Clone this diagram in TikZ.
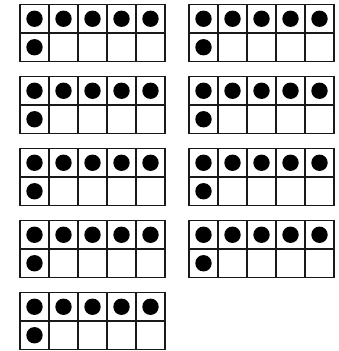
\documentclass[tikz,border=0pt]{standalone}
\usepackage{tikz}

\begin{document}
\begin{tikzpicture}[x=1pt,y=-1pt,
    frame/.style={line width=1.6pt,black!90},
    counter/.style={fill=black}]
  \useasboundingbox (0,0) rectangle (339,351);
  % nine ten-frames, each showing six
  \foreach \fx/\fy in {20/4.5,189/4.5,20/76.5,189/76.5,20/148.5,189/148.5,20/220.5,189/220.5,20/292.5}{
    \begin{scope}[xshift=\fx pt,yshift=-\fy pt]
      \draw[frame] (0,0) rectangle (145,57);
      \draw[frame] (0,28.5) -- (145,28.5);
      \foreach \i in {1,...,4}
        \draw[frame] (29*\i,0) -- (29*\i,57);
      \foreach \i in {0,...,4}
        \fill[counter] (29*\i+14.5,14.25) circle (8.2pt);
      \fill[counter] (14.5,42.75) circle (8.2pt);
    \end{scope}
  }
\end{tikzpicture}
\end{document}
